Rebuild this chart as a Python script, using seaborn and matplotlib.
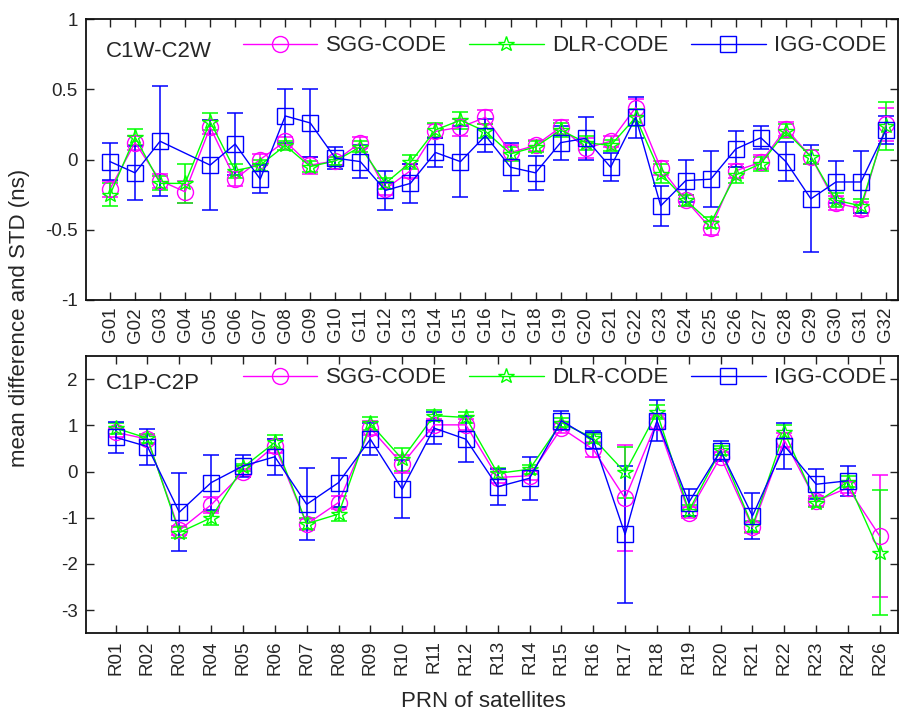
import numpy as np
import pandas as pd
import matplotlib
matplotlib.use("Agg")
import matplotlib.pyplot as plt
from matplotlib.ticker import FuncFormatter
import seaborn as sns

# ---------------- GPS: C1W-C2W ----------------
gps_prn = [f"G{i:02d}" for i in range(1, 33)]
gps_sgg = [-0.21, 0.12, -0.15, -0.23, 0.23, -0.14, 0.00, 0.13, -0.04, -0.01, 0.12, -0.21,
           -0.08, 0.20, 0.23, 0.30, 0.05, 0.10, 0.23, 0.08, 0.13, 0.37, -0.06, -0.29,
           -0.49, -0.08, -0.02, 0.22, 0.02, -0.31, -0.35, 0.25]
gps_sgg_std = [0.06, 0.05, 0.05, 0.08, 0.05, 0.05, 0.04, 0.03, 0.06, 0.03, 0.04, 0.04,
               0.05, 0.05, 0.06, 0.05, 0.05, 0.04, 0.05, 0.07, 0.04, 0.06, 0.05, 0.04,
               0.05, 0.05, 0.05, 0.05, 0.05, 0.05, 0.05, 0.12]
gps_dlr = [-0.25, 0.16, -0.17, -0.17, 0.27, -0.08, -0.04, 0.10, -0.05, -0.01, 0.09, -0.17,
           -0.02, 0.21, 0.28, 0.20, 0.04, 0.09, 0.21, 0.12, 0.10, 0.30, -0.10, -0.29,
           -0.45, -0.11, -0.03, 0.20, 0.02, -0.29, -0.33, 0.24]
gps_dlr_std = [0.08, 0.06, 0.05, 0.14, 0.06, 0.05, 0.04, 0.03, 0.04, 0.03, 0.04, 0.04,
               0.05, 0.05, 0.06, 0.05, 0.05, 0.04, 0.05, 0.05, 0.04, 0.06, 0.07, 0.04,
               0.04, 0.06, 0.05, 0.05, 0.05, 0.05, 0.05, 0.17]
gps_igg = [-0.015, -0.095, 0.13, np.nan, -0.04, 0.11, -0.14, 0.31, 0.26, 0.01, -0.015, -0.22,
           -0.17, 0.05, -0.015, 0.17, -0.055, -0.095, 0.12, 0.15, -0.055, 0.30, -0.33, -0.15,
           -0.14, 0.075, 0.155, -0.015, -0.28, -0.16, -0.16, 0.21]
gps_igg_std = [0.13, 0.19, 0.39, np.nan, 0.32, 0.22, 0.10, 0.19, 0.24, 0.08, 0.12, 0.14,
               0.14, 0.10, 0.25, 0.12, 0.17, 0.12, 0.12, 0.15, 0.10, 0.145, 0.14, 0.15,
               0.20, 0.13, 0.08, 0.14, 0.38, 0.15, 0.22, 0.10]

# ---------------- GLONASS: C1P-C2P ----------------
glo_prn = ["R01", "R02", "R03", "R04", "R05", "R06", "R07", "R08", "R09", "R10", "R11", "R12",
           "R13", "R14", "R15", "R16", "R17", "R18", "R19", "R20", "R21", "R22", "R23", "R24",
           "R26"]
glo_sgg = [0.85, 0.70, -1.27, -0.72, -0.02, 0.56, -1.14, -0.67, 0.94, 0.16, 1.01, 1.01,
           -0.13, -0.09, 0.94, 0.48, -0.58, 1.08, -0.89, 0.32, -1.21, 0.68, -0.64, -0.35,
           -1.40]
glo_sgg_std = [0.10, 0.10, 0.10, 0.17, 0.08, 0.15, 0.12, 0.13, 0.15, 0.20, 0.12, 0.12,
               0.12, 0.10, 0.10, 0.17, 1.15, 0.15, 0.12, 0.10, 0.12, 0.15, 0.10, 0.12,
               1.32]
glo_dlr = [0.94, 0.72, -1.32, -1.00, 0.09, 0.63, -1.13, -0.92, 1.04, 0.27, 1.21, 1.17,
           -0.04, 0.05, 1.06, 0.72, -0.02, 1.28, -0.85, 0.46, -1.18, 0.85, -0.67, -0.22,
           -1.76]
glo_dlr_std = [0.12, 0.10, 0.12, 0.15, 0.08, 0.15, 0.12, 0.15, 0.15, 0.25, 0.12, 0.12,
               0.12, 0.10, 0.10, 0.10, 0.55, 0.15, 0.12, 0.10, 0.12, 0.15, 0.10, 0.12,
               1.35]
glo_igg = [0.74, 0.54, -0.88, -0.24, 0.12, 0.32, -0.71, -0.24, 0.70, -0.38, 0.94, 0.70,
           -0.33, -0.145, 1.10, 0.68, -1.36, 1.10, -0.67, 0.45, -0.96, 0.56, -0.275, -0.20,
           np.nan]
glo_igg_std = [0.34, 0.39, 0.84, 0.60, 0.24, 0.39, 0.78, 0.53, 0.34, 0.63, 0.34, 0.50,
               0.39, 0.46, 0.20, 0.20, 1.48, 0.44, 0.30, 0.22, 0.50, 0.50, 0.32, 0.32,
               np.nan]

series_names = ["SGG-CODE", "DLR-CODE", "IGG-CODE"]
series_colors = ["#ff00ff", "#00ff00", "#0000ff"]
series_markers = ["o", "*", "s"]
series_msize = [11.5, 11.5, 11.5]

sns.set_theme(style="ticks")
plt.rcParams["font.family"] = ["Liberation Sans", "DejaVu Sans"]
plt.rcParams["axes.unicode_minus"] = False

fig = plt.figure(figsize=(9.02, 7.11), dpi=100)
W, H = 902.0, 711.0
ax1 = fig.add_axes([86 / W, 1 - 300 / H, 812 / W, 281 / H])
ax2 = fig.add_axes([86 / W, 1 - 633.3 / H, 812 / W, 277.3 / H])


def draw_panel(ax, prn, means, stds, title, ylim, yticks, xlim, leg_y, title_y):
    x = np.arange(1, len(prn) + 1)
    for name, color, marker, ms, m, s in zip(series_names, series_colors, series_markers,
                                              series_msize, means, stds):
        df = pd.DataFrame({"x": x, "y": np.asarray(m, dtype=float)})
        ax.errorbar(x, df["y"], yerr=np.asarray(s, dtype=float), fmt="none",
                    ecolor=color, elinewidth=1.1, capsize=5.5, capthick=1.1, zorder=2)
        sns.lineplot(data=df, x="x", y="y", ax=ax, color=color, linewidth=1.0,
                     marker=marker, markersize=ms, markerfacecolor="none",
                     markeredgecolor=color, markeredgewidth=1.0, label=name,
                     zorder=3)
    ax.set_xlim(*xlim)
    ax.set_ylim(*ylim)
    ax.set_xticks(x)
    ax.set_xticklabels(prn, rotation=90, fontsize=13.5)
    ax.set_yticks(yticks)
    ax.yaxis.set_major_formatter(FuncFormatter(lambda v, p: f"{v:g}"))
    ax.tick_params(axis="y", labelsize=13.5, pad=6)
    ax.tick_params(axis="x", pad=5)
    ax.tick_params(direction="in", top=True, right=True, length=6, width=1.0,
                   color="#222222")
    ax.set_xlabel("")
    ax.set_ylabel("")
    for sp in ax.spines.values():
        sp.set_linewidth(1.3)
        sp.set_color("#111111")
    ax.text(0.025, title_y, title, transform=ax.transAxes, fontsize=16,
            ha="left", va="center")
    ax.legend(loc="center left", bbox_to_anchor=(0.193, leg_y), ncol=3,
              frameon=False, fontsize=16, handlelength=3.35, handletextpad=0.4,
              columnspacing=1.0, borderpad=0, borderaxespad=0, numpoints=1)


draw_panel(ax1, gps_prn, [gps_sgg, gps_dlr, gps_igg],
           [gps_sgg_std, gps_dlr_std, gps_igg_std], "C1W-C2W",
           (-1, 1), [-1, -0.5, 0, 0.5, 1], (0.04, 32.48), 0.904, 0.885)
draw_panel(ax2, glo_prn, [glo_sgg, glo_dlr, glo_igg],
           [glo_sgg_std, glo_dlr_std, glo_igg_std], "C1P-C2P",
           (-3.5, 2.5), [-3, -2, -1, 0, 1, 2], (0.07, 25.57), 0.921, 0.902)

fig.text(0.022, 0.553, "mean difference and STD (ns)", rotation=90,
         ha="center", va="center", fontsize=16)
fig.text(0.536, 0.0127, "PRN of satellites", ha="center", va="center", fontsize=16)

fig.savefig("out.png", dpi=100)
